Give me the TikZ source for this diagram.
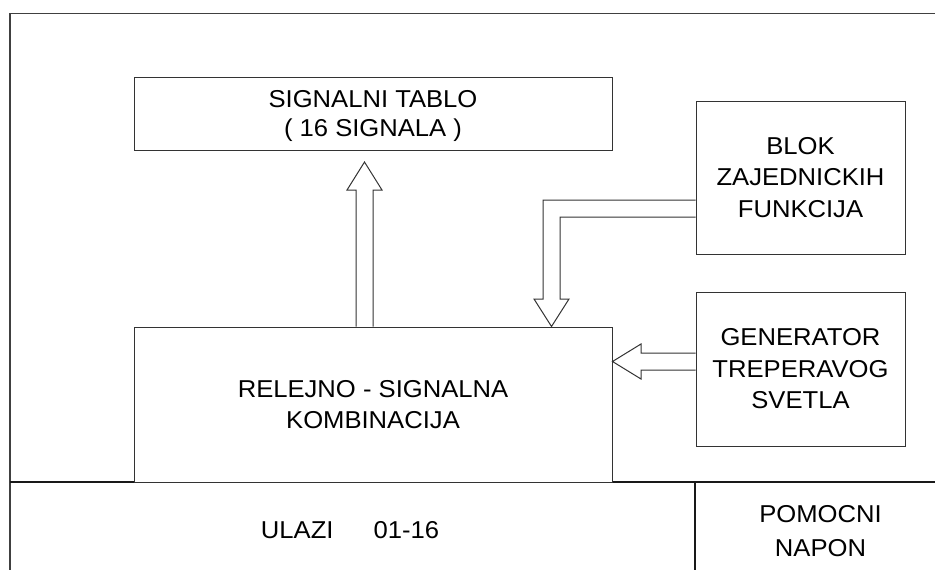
\documentclass[tikz,border=0pt]{standalone}
\usepackage{fontspec}
\setmainfont[FakeStretch=1.05]{Liberation Sans}
\begin{document}
\begin{tikzpicture}[x=1pt,y=-1pt,
  line/.style={draw=black!80,line width=1pt},
  frame/.style={draw=black!75,line width=1.3pt},
  blockbox/.style={line,fill=white,inner sep=0pt,align=center,
    font=\fontsize{24.4}{31.5}\selectfont},
  fat/.style={line,fill=white,line join=miter},
  label/.style={inner sep=0pt,align=center,font=\fontsize{24.4}{34}\selectfont}]
\useasboundingbox (0,0) rectangle (935,570);

% outer frame and the bottom strip
\draw[frame] (10,570) -- (10,13.5) -- (935,13.5);
\draw[frame,draw=black!90] (10,482) -- (935,482);
\draw[frame,draw=black!90] (695,482) -- (695,570);

% blocks
\node[blockbox,minimum width=478,minimum height=73,text depth=0pt,
  font=\fontsize{24.4}{29}\selectfont] (tab) at (373,113.5)
  {SIGNALNI TABLO\\( 16 SIGNALA )};
\node[blockbox,minimum width=478,minimum height=155] (rel) at (373,404.5)
  {RELEJNO - SIGNALNA\\KOMBINACIJA};
\node[blockbox,minimum width=209,minimum height=153] (blok) at (800.5,177.5)
  {BLOK\\ZAJEDNICKIH\\FUNKCIJA};
\node[blockbox,minimum width=209,minimum height=154] (gen) at (800.5,369)
  {GENERATOR\\TREPERAVOG\\SVETLA};

% labels of the bottom strip
\node[label,anchor=base] (ulazi) at (350,538) {ULAZI\hspace{40pt}01-16};
\node[label] (pomocni) at (820.5,531) {POMOCNI\\NAPON};

% relay combination -> signal board
\coordinate (upbase) at (rel.north -| 364.5,0);
\draw[fat] ([xshift=-8.5]upbase) -- (356,190) -- (347,190) -- (364.5,162)
  -- (382,190) -- (373,190) -- ([xshift=8.5]upbase);

% common functions -> relay combination
\coordinate (dntip) at (rel.north -| 551.5,0);
\draw[fat] (blok.west |- 0,200) -- (543,200) -- (543,299) -- (534,299)
  -- (dntip) -- (569,299) -- (560,299) -- (560,217) -- (blok.west |- 0,217);

% flasher generator -> relay combination
\coordinate (lftip) at (rel.east |- 0,361.5);
\draw[fat] (gen.west |- 0,353) -- (641,353) -- (641,344) -- (lftip)
  -- (641,379) -- (641,370) -- (gen.west |- 0,370);
\end{tikzpicture}
\end{document}
